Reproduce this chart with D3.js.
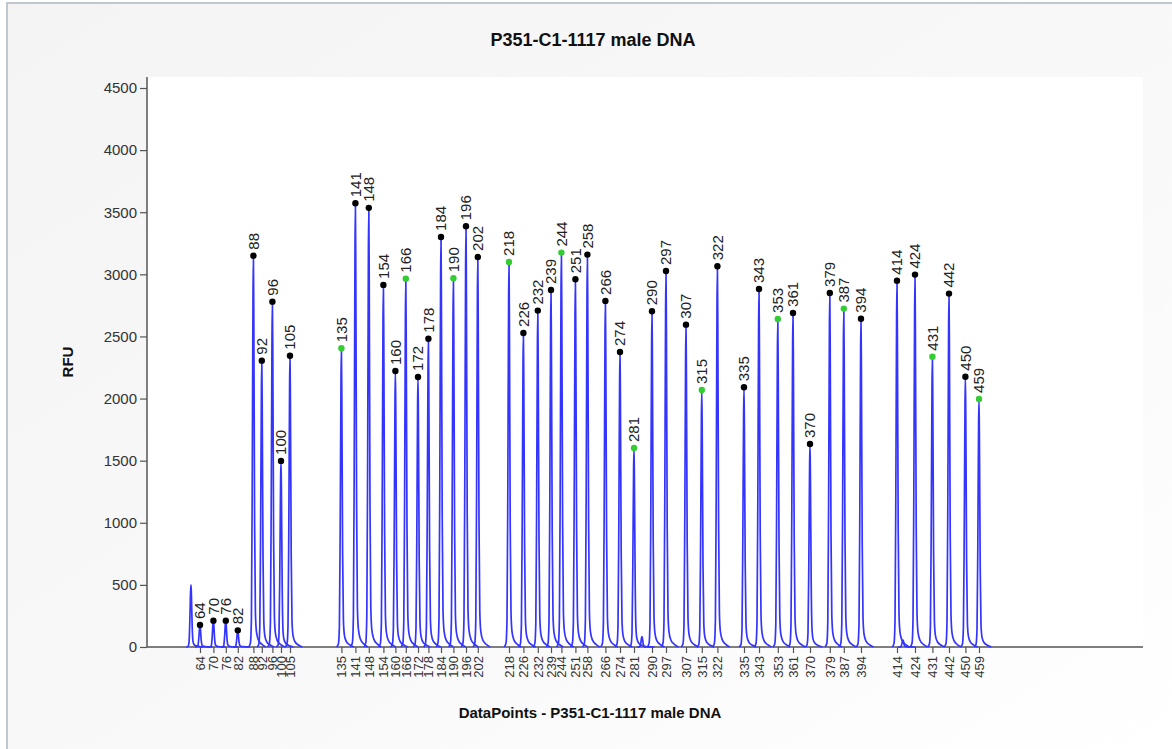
<!DOCTYPE html>
<html>
<head>
<meta charset="utf-8">
<script src="https://cdn.jsdelivr.net/npm/d3@7"></script>
<style>
  html, body { margin: 0; padding: 0; background: #fff; }
  svg { display: block; font-family: "Liberation Sans", Arial, sans-serif; }
</style>
</head>
<body>
<div id="chart"></div>
<script>
// sized peaks: fragment size (bp), position (data points), height (RFU)
var peakSizes = [64, 70, 76, 82, 88, 92, 96, 100, 105,
	135, 141, 148, 154, 160, 166, 172, 178, 184, 190, 196, 202,
	218, 226, 232, 239, 244, 251, 258, 266, 274, 281,
	290, 297, 307, 315, 322, 335, 343, 353, 361, 370, 379, 387, 394,
	414, 424, 431, 442, 450, 459];
var peakPoints = [265, 332, 394, 454, 532, 574, 627, 670, 715,
	972, 1042, 1109, 1182, 1242, 1294, 1355, 1407, 1470, 1532, 1595, 1654,
	1810, 1882, 1954, 2020, 2072, 2142, 2202, 2292, 2365, 2435,
	2525, 2595, 2695, 2774, 2852, 2985, 3060, 3154, 3230, 3315, 3414, 3484, 3570,
	3750, 3840, 3927, 4010, 4092, 4160];
var peakRFU = [177, 212, 212, 134, 3150, 2305, 2780, 1498, 2345,
	2405, 3572, 3535, 2915, 2222, 2965, 2174, 2482, 3301, 2968, 3387, 3140,
	3100, 2528, 2708, 2874, 3175, 2960, 3159, 2786, 2375, 1602,
	2703, 3027, 2595, 2069, 3065, 2091, 2882, 2641, 2689, 1634, 2850, 2724, 2643,
	2949, 2998, 2337, 2845, 2176, 1997];
// peaks marked with a green dot
var greenSizes = [135, 166, 190, 218, 244, 281, 315, 353, 387, 431, 459];

// unsized signal (primer peak, small artefacts)
var otherPoints = [220, 2475, 3780];
var otherRFU = [500, 83, 56];

var yTicks = [0, 500, 1000, 1500, 2000, 2500, 3000, 3500, 4000, 4500];

// shape of one peak: offset in data points, fraction of height
var shapeOffsets = [-24, -15, -10, -6, -2, 0, 2, 6, 10, 15, 25, 42, 62];
var shapeFrac = [0, 0.01, 0.07, 0.4, 0.9, 1, 0.85, 0.32, 0.09, 0.04, 0.018, 0.007, 0];

var W = 1172, H = 749;
var plotL = 147, plotR = 1143, plotT = 77, plotB = 647;

var svg = d3.select("#chart").append("svg")
	.attr("width", W).attr("height", H);

var defs = svg.append("defs");
var grad = defs.append("linearGradient").attr("id", "bg")
	.attr("x1", "0").attr("y1", "0").attr("x2", "1").attr("y2", "1");
grad.append("stop").attr("offset", "0").attr("stop-color", "#f4f4f4");
grad.append("stop").attr("offset", "0.6").attr("stop-color", "#f9f9f9");
grad.append("stop").attr("offset", "1").attr("stop-color", "#ffffff");

svg.append("rect").attr("width", W).attr("height", H).attr("fill", "#fff");
svg.append("rect").attr("x", 7).attr("y", 3).attr("width", W).attr("height", H)
	.attr("fill", "url(#bg)").attr("stroke", "#aeb6c0").attr("stroke-width", 1.5);

svg.append("rect").attr("x", plotL).attr("y", plotT)
	.attr("width", plotR - plotL).attr("height", plotB - plotT).attr("fill", "#fff");

var x = d3.scaleLinear().domain([0, 4980]).range([plotL, plotR]);
var y = d3.scaleLinear().domain([0, 4500]).range([plotB, plotT + 11]);

// traces
var line = d3.line()
	.x(function(d) { return x(d[0]); })
	.y(function(d) { return y(d[1]); })
	.curve(d3.curveMonotoneX);

function peakPath(pos, h)
{
	var pts = [];
	for (var i = 0; i < shapeOffsets.length; i++)
		pts.push([pos + shapeOffsets[i], h * shapeFrac[i]]);
	return line(pts);
}

var allPos = otherPoints.concat(peakPoints);
var allH = otherRFU.concat(peakRFU);

// axes first, trace drawn on top
var yAxis = d3.axisLeft(y).tickValues(yTicks).tickSize(7).tickPadding(3).tickSizeOuter(0)
	.tickFormat(d3.format("d"));
var gy = svg.append("g").attr("transform", "translate(" + plotL + ",0)").call(yAxis);
gy.select(".domain").attr("d", "M0," + plotT + "V" + plotB);

var xAxis = d3.axisBottom(x).tickValues(peakPoints).tickSize(6).tickSizeOuter(0)
	.tickFormat(function(d, i) { return peakSizes[i]; });
var gx = svg.append("g").attr("transform", "translate(0," + plotB + ")").call(xAxis);
gx.select(".domain").attr("d", "M" + plotL + ",0H" + plotR);

[gx, gy].forEach(function(g) {
	g.selectAll(".domain").attr("stroke", "#555").attr("stroke-width", 1.5);
	g.selectAll(".tick line").attr("stroke", "#555").attr("stroke-width", 1.2);
	g.selectAll("text").attr("fill", "#333").attr("font-family", "'Liberation Sans', Arial, sans-serif");
});
gy.selectAll("text").attr("font-size", 15);
gx.selectAll("text")
	.attr("font-size", 13)
	.attr("text-anchor", "end")
	.attr("transform", "rotate(-90)")
	.attr("x", -9).attr("y", 0).attr("dy", "0.35em");

svg.append("g").selectAll("path")
	.data(allPos)
	.join("path")
	.attr("d", function(d, i) { return peakPath(d, allH[i]); })
	.attr("fill", "none")
	.attr("stroke", "#3434ff")
	.attr("stroke-width", 1.7);

// peak dots and labels
var marks = svg.append("g").selectAll("g")
	.data(peakSizes)
	.join("g")
	.attr("transform", function(d, i) { return "translate(" + x(peakPoints[i]) + "," + y(peakRFU[i]) + ")"; });

marks.append("circle")
	.attr("r", 3.2)
	.attr("fill", function(d) { return greenSizes.indexOf(d) >= 0 ? "#33cc33" : "#000"; });

marks.append("text")
	.attr("transform", "rotate(-90)")
	.attr("x", 6).attr("dy", "0.35em")
	.attr("font-size", 15)
	.attr("fill", "#222")
	.text(function(d) { return d; });

// titles
svg.append("text")
	.attr("x", 593).attr("y", 46)
	.attr("text-anchor", "middle")
	.attr("font-size", 18).attr("font-weight", "bold")
	.attr("fill", "#111")
	.text("P351-C1-1117 male DNA");

svg.append("text")
	.attr("transform", "translate(73," + ((plotT + plotB) / 2) + ") rotate(-90)")
	.attr("text-anchor", "middle")
	.attr("font-size", 15).attr("font-weight", "bold")
	.attr("fill", "#111")
	.text("RFU");

svg.append("text")
	.attr("x", 590).attr("y", 718)
	.attr("text-anchor", "middle")
	.attr("font-size", 15).attr("font-weight", "bold")
	.attr("fill", "#111")
	.text("DataPoints - P351-C1-1117 male DNA");
</script>
</body>
</html>
